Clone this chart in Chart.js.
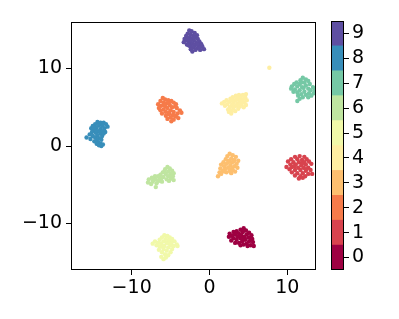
<!DOCTYPE html>
<html>
<head>
<meta charset="utf-8">
<script src="https://cdn.jsdelivr.net/npm/chart.js@4/dist/chart.umd.min.js"></script>
<style>
  html, body { margin: 0; padding: 0; background: #fff; }
  #wrap { position: relative; width: 399px; height: 319px; }
  #main { position: absolute; left: 0; top: 0; }
  #cbar { position: absolute; left: 320px; top: 0; }
</style>
</head>
<body>
<div id="wrap">
  <canvas id="main" width="399" height="319"></canvas>
  <canvas id="cbar" width="79" height="319"></canvas>
</div>
<script>
// class labels and Spectral colours
const classes = ['0', '1', '2', '3', '4', '5', '6', '7', '8', '9'];
const classColors = ['#9e0142', '#d8434e', '#f67b4a', '#fdbf6f', '#feeea2',
                     '#f1f9a9', '#bfe5a0', '#75c8a5', '#388eba', '#5e4fa2'];

const xTicks = [-10, 0, 10];
const yTicks = [-10, 0, 10];

// embedded points per class
const pts0 = [[4.4,-10.6],[4.0,-10.8],[4.7,-10.9],[3.5,-11.0],[3.1,-11.1],[4.3,-11.1],[5.1,-11.2],[2.6,-11.3],[3.8,-11.3],[4.8,-11.4],[3.3,-11.4],[2.9,-11.6],[4.1,-11.5],[5.4,-11.5],[3.6,-11.7],[4.5,-11.7],[2.5,-11.7],[5.0,-11.8],[3.1,-11.9],[4.0,-11.9],[5.5,-12.0],[3.5,-12.1],[4.6,-12.1],[2.8,-12.2],[5.1,-12.3],[4.2,-12.3],[3.8,-12.5],[5.6,-12.4],[4.8,-12.6],[3.3,-12.5],[4.4,-12.7],[5.3,-12.8],[5.7,-12.9],[4.0,-12.8],[4.9,-12.9],[3.9,-11.6],[4.3,-12.0],[5.3,-11.9]];
const pts1 = [[11.0,-1.4],[11.6,-1.3],[12.2,-1.4],[10.5,-1.7],[11.3,-1.7],[11.9,-1.8],[12.5,-1.7],[10.1,-2.0],[10.8,-2.1],[11.5,-2.1],[12.2,-2.1],[12.8,-2.0],[10.4,-2.4],[11.1,-2.4],[11.8,-2.5],[12.4,-2.4],[13.1,-2.3],[9.9,-2.7],[10.6,-2.7],[11.4,-2.8],[12.1,-2.8],[12.7,-2.8],[10.3,-3.0],[11.0,-3.1],[11.7,-3.1],[12.4,-3.2],[13.0,-3.1],[10.6,-3.4],[11.3,-3.5],[12.0,-3.5],[12.7,-3.6],[11.0,-3.8],[11.7,-3.9],[12.3,-3.9],[11.5,-4.2],[12.0,-4.1],[13.2,-3.6],[10.9,-2.6],[12.4,-3.0],[11.9,-2.3]];
const pts2 = [[-6.0,6.2],[-5.7,6.0],[-5.3,5.9],[-6.3,5.8],[-4.9,5.8],[-5.9,5.6],[-5.5,5.5],[-4.6,5.6],[-6.6,5.4],[-5.1,5.3],[-4.3,5.4],[-6.2,5.2],[-5.7,5.1],[-4.8,5.0],[-5.4,4.9],[-6.5,4.9],[-4.2,4.9],[-5.9,4.7],[-5.0,4.6],[-3.8,4.6],[-4.6,4.4],[-5.6,4.4],[-3.6,4.3],[-4.1,4.2],[-6.1,4.2],[-5.2,4.1],[-4.7,4.0],[-5.6,3.9],[-4.3,3.8],[-5.0,3.7],[-4.0,3.6],[-5.4,3.5],[-4.6,3.4],[-4.9,3.2],[-5.3,5.6],[-4.4,5.1],[-5.2,4.3],[-6.3,4.6],[-4.5,3.9],[-5.8,5.3]];
const pts3 = [[2.6,-1.0],[3.0,-1.2],[2.3,-1.3],[3.4,-1.4],[2.8,-1.6],[2.1,-1.7],[3.2,-1.8],[3.7,-1.9],[2.5,-1.9],[1.8,-2.1],[2.9,-2.1],[3.5,-2.3],[2.2,-2.3],[1.5,-2.4],[2.7,-2.5],[3.2,-2.6],[1.9,-2.6],[2.4,-2.8],[3.6,-2.8],[1.4,-2.9],[2.9,-2.9],[2.0,-3.0],[1.7,-3.2],[2.6,-3.2],[3.3,-3.3],[1.3,-3.4],[2.2,-3.4],[2.8,-3.5],[1.5,-3.6],[1.1,-3.9],[3.1,-2.0],[2.4,-2.1],[1.9,-3.3],[3.0,-3.1]];
const pts4 = [[4.7,6.7],[4.3,6.6],[3.8,6.6],[3.4,6.5],[4.6,6.3],[4.0,6.3],[3.0,6.3],[2.7,6.1],[3.6,6.2],[4.3,6.0],[4.8,5.9],[2.2,5.9],[3.3,5.9],[3.9,5.8],[1.9,5.7],[2.6,5.7],[4.5,5.6],[3.1,5.6],[1.6,5.5],[3.6,5.5],[4.1,5.4],[2.3,5.4],[2.9,5.3],[4.7,5.3],[3.4,5.2],[2.0,5.2],[3.9,5.1],[2.6,5.0],[4.4,5.0],[3.1,4.9],[2.4,4.7],[3.7,4.8],[2.8,4.6],[2.5,4.4],[3.3,4.5],[3.5,6.0],[4.2,5.7],[2.9,5.9],[3.7,5.3],[2.8,4.2],[7.7,10.1]];
const pts5 = [[-5.8,-11.5],[-5.4,-11.6],[-5.1,-11.8],[-6.1,-11.8],[-5.6,-12.0],[-4.8,-12.0],[-6.4,-12.1],[-5.2,-12.2],[-4.5,-12.3],[-7.0,-12.3],[-5.9,-12.3],[-6.6,-12.5],[-4.9,-12.5],[-7.3,-12.6],[-5.5,-12.5],[-4.2,-12.7],[-6.2,-12.6],[-5.0,-12.8],[-4.6,-12.9],[-5.8,-12.9],[-6.8,-12.8],[-6.4,-13.0],[-5.3,-13.1],[-4.8,-13.3],[-5.9,-13.3],[-6.5,-13.4],[-5.5,-13.5],[-5.0,-13.7],[-6.1,-13.7],[-5.7,-14.0],[-5.3,-14.1],[-6.2,-14.3],[-5.9,-14.6],[-5.6,-14.4],[-4.1,-12.9],[-5.2,-12.5],[-6.0,-13.0]];
const pts6 = [[-5.4,-2.7],[-5.1,-2.9],[-5.7,-3.0],[-4.8,-3.2],[-5.3,-3.3],[-6.0,-3.4],[-4.6,-3.5],[-5.6,-3.6],[-5.0,-3.6],[-6.3,-3.7],[-4.7,-3.9],[-5.3,-3.9],[-5.9,-4.0],[-6.6,-3.9],[-7.0,-3.9],[-4.9,-4.2],[-5.5,-4.3],[-6.2,-4.2],[-7.4,-4.1],[-7.8,-4.3],[-6.9,-4.3],[-6.5,-4.5],[-5.2,-4.5],[-7.3,-4.6],[-7.9,-4.7],[-6.8,-4.8],[-7.5,-4.9],[-6.1,-4.6],[-6.9,-5.3],[-4.6,-4.4],[-5.8,-3.3],[-5.0,-4.0],[-7.2,-4.4],[-6.4,-4.1]];
const pts7 = [[12.0,8.8],[12.4,8.6],[11.7,8.5],[12.7,8.4],[11.2,8.2],[12.2,8.2],[10.9,8.0],[11.6,8.0],[12.9,8.0],[10.6,7.7],[11.3,7.7],[12.4,7.8],[11.9,7.6],[13.3,7.6],[10.5,7.4],[11.0,7.3],[12.7,7.4],[11.6,7.2],[13.0,7.2],[13.6,7.1],[12.2,7.0],[11.3,6.9],[12.8,6.8],[13.4,6.8],[11.8,6.7],[12.4,6.6],[13.1,6.5],[11.4,6.5],[12.0,6.3],[12.7,6.3],[11.6,6.1],[11.3,5.8],[12.1,7.5],[11.8,8.2],[13.5,7.4],[10.8,7.0]];
const pts8 = [[-14.4,3.1],[-14.0,3.0],[-13.6,3.0],[-13.3,2.8],[-14.7,2.8],[-15.0,2.6],[-14.2,2.7],[-13.8,2.6],[-13.1,2.5],[-14.5,2.4],[-15.2,2.3],[-13.5,2.3],[-14.0,2.2],[-14.8,2.1],[-13.8,1.9],[-14.3,1.9],[-15.1,1.8],[-14.6,1.7],[-13.4,1.8],[-14.0,1.6],[-15.4,1.5],[-14.4,1.4],[-13.8,1.3],[-15.0,1.3],[-14.7,1.1],[-15.8,1.1],[-14.2,1.0],[-15.3,0.9],[-14.5,0.8],[-13.9,0.8],[-14.8,0.6],[-14.3,0.5],[-14.0,0.3],[-14.5,0.3],[-13.7,0.2],[-14.2,0.1],[-13.9,0.0],[-14.6,2.0],[-13.6,1.6],[-14.9,2.4]];
const pts9 = [[-2.6,14.9],[-2.3,14.8],[-1.9,14.6],[-2.8,14.5],[-2.4,14.4],[-1.6,14.3],[-3.0,14.2],[-2.1,14.2],[-1.8,14.0],[-2.6,14.0],[-3.2,13.8],[-2.3,13.8],[-1.5,13.8],[-2.9,13.6],[-2.0,13.6],[-1.3,13.5],[-3.3,13.4],[-2.6,13.4],[-1.7,13.3],[-2.2,13.2],[-1.1,13.2],[-2.9,13.1],[-1.9,13.0],[-1.4,12.9],[-2.5,12.9],[-0.9,12.8],[-2.1,12.7],[-1.6,12.6],[-0.7,12.5],[-2.4,12.5],[-1.2,12.4],[-2.2,12.2],[-1.8,12.4],[-2.7,13.0],[-1.0,13.0],[-2.0,14.0],[-2.45,13.65],[-1.55,13.1],[-2.8,13.75],[-1.25,12.7]];

const classPoints = [pts0, pts1, pts2, pts3, pts4, pts5, pts6, pts7, pts8, pts9];

const FONT = { family: 'DejaVu Sans', size: 19 };
const minus = v => String(v).replace('-', '\u2212');

// frame round the plot area, like matplotlib spines
const frame = {
    id: 'frame',
    afterDraw(chart) {
        const a = chart.chartArea, ctx = chart.ctx;
        ctx.save();
        ctx.strokeStyle = '#000';
        ctx.lineWidth = 1;
        ctx.strokeRect(a.left + 0.5, a.top + 0.5, a.right - a.left - 1, a.bottom - a.top - 1);
        ctx.restore();
    }
};

new Chart(document.getElementById('main'), {
    type: 'scatter',
    data: {
        datasets: classPoints.map((p, i) => ({
            label: classes[i],
            data: p.map(([x, y]) => ({ x, y })),
            backgroundColor: classColors[i],
            borderWidth: 0,
            pointRadius: 2.2
        }))
    },
    options: {
        responsive: false,
        animation: false,
        layout: { padding: { top: 22, right: 83, left: 0, bottom: 0 } },
        plugins: { legend: { display: false }, tooltip: { enabled: false } },
        scales: {
            x: {
                type: 'linear', min: -17.8, max: 13.7,
                afterFit: s => { s.height = 49; },
                afterBuildTicks: s => { s.ticks = xTicks.map(v => ({ value: v })); },
                grid: { display: true, drawOnChartArea: false, tickLength: 5, color: '#000' },
                border: { display: false },
                ticks: { color: '#000', font: FONT, padding: 2, maxRotation: 0, callback: minus }
            },
            y: {
                type: 'linear', min: -16.0, max: 16.0,
                afterFit: s => { s.width = 71; },
                afterBuildTicks: s => { s.ticks = yTicks.map(v => ({ value: v })); },
                grid: { display: true, drawOnChartArea: false, tickLength: 5, color: '#000' },
                border: { display: false },
                ticks: { color: '#000', font: FONT, padding: 4, callback: minus }
            }
        }
    },
    plugins: [frame]
});

// colour bar as floating bars, one per class
new Chart(document.getElementById('cbar'), {
    type: 'bar',
    data: {
        labels: [''],
        datasets: classes.map((c, i) => ({
            label: c,
            data: [[i - 0.5, i + 0.5]],
            backgroundColor: classColors[i],
            borderWidth: 0,
            barPercentage: 1,
            categoryPercentage: 1,
            grouped: false
        }))
    },
    options: {
        responsive: false,
        animation: false,
        layout: { padding: { top: 21, left: 11, right: 0, bottom: 49 } },
        plugins: { legend: { display: false }, tooltip: { enabled: false } },
        scales: {
            x: { display: false },
            y: {
                position: 'right', min: -0.5, max: 9.5,
                afterFit: s => { s.width = 55; },
                afterBuildTicks: s => { s.ticks = classes.map((c, i) => ({ value: i })); },
                grid: { display: true, drawOnChartArea: false, tickLength: 5, color: '#000' },
                border: { display: false },
                ticks: { color: '#000', font: FONT, padding: 3, callback: v => classes[v] }
            }
        }
    },
    plugins: [frame]
});
</script>
</body>
</html>
